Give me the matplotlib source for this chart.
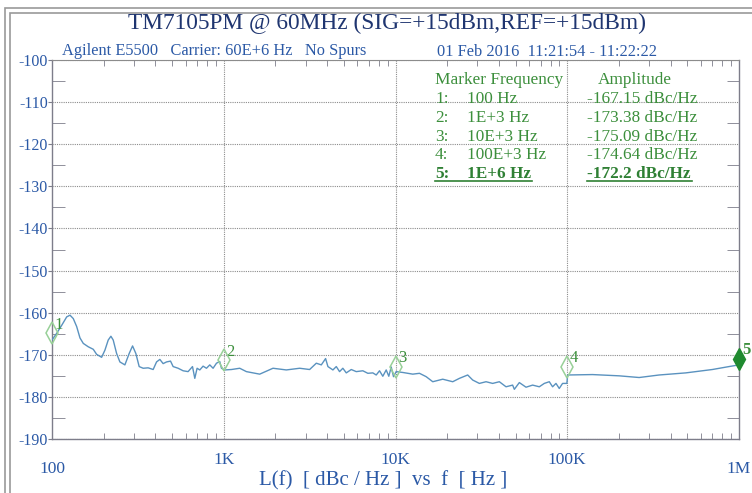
import numpy as np
import matplotlib
matplotlib.use("Agg")
import matplotlib.pyplot as plt
from matplotlib.patches import Rectangle
from matplotlib.ticker import FixedLocator, NullFormatter

plt.rcParams['font.family'] = ['Liberation Serif', 'DejaVu Serif']

# trace: offset frequency (Hz) and L(f) (dBc/Hz)
freq_hz = [100, 106.5, 113.9, 121.8, 127.3, 133.0, 139.2, 145.5, 152.1, 162.6,
           173.9, 181.9, 194.5, 203.3, 212.5, 220.3, 227.2, 237.8, 248.5, 265.7,
           281.4, 294.5, 307.8, 321.8, 339.5, 363.0, 388.1, 406.2, 424.6, 443.7,
           464.4, 489.9, 507.3, 542.4, 580.0, 620.0, 657.7, 678.3, 699.5, 725.3,
           758.0, 793.3, 829.2, 866.7, 907.2, 947.7, 969.7, 1013, 1109, 1239,
           1355, 1619, 1935, 2314, 2767, 3162, 3459, 3698, 3917, 4041,
           4321, 4521, 4724, 4937, 5169, 5526, 5908, 6455, 6902, 7379,
           7723, 8072, 8436, 8829, 9142, 9441, 9736, 10094, 11026, 12607,
           13790, 15085, 16481, 18836, 21537, 23559, 26326, 28151, 30781, 33670,
           36784, 40235, 44009, 48084, 49191, 52602, 57530, 62863, 68755, 73503,
           78596, 82150, 85980, 89840, 93910, 99500, 100500, 140320, 200600, 262200,
           342700, 489900, 699500, 874800, 1000000]
noise_dbc = [-166.5, -164.9, -163.0, -161.0, -160.6, -161.4, -163.3, -166.0, -167.3, -168.1,
             -168.7, -169.9, -170.6, -168.9, -166.5, -165.6, -166.5, -169.7, -171.7, -172.4,
             -169.7, -167.9, -169.7, -172.8, -173.2, -173.1, -173.5, -171.7, -171.1, -172.1,
             -171.7, -171.5, -172.8, -173.2, -173.8, -174.0, -172.8, -175.6, -173.2, -173.6,
             -172.7, -173.2, -172.4, -173.2, -172.0, -171.6, -173.2, -173.6, -173.5, -173.2,
             -174.0, -174.6, -173.2, -173.6, -173.2, -173.5, -172.0, -172.4, -170.9, -172.8,
             -173.6, -172.8, -174.0, -173.2, -174.3, -173.5, -174.0, -173.8, -174.4, -174.3,
             -174.8, -173.8, -175.1, -173.6, -175.1, -172.9, -175.2, -174.0, -174.2, -174.6,
             -174.4, -175.2, -176.4, -175.8, -176.4, -175.6, -174.8, -176.0, -176.8, -176.4,
             -176.8, -176.4, -177.6, -177.2, -178.2, -176.6, -177.7, -177.2, -177.6, -176.8,
             -176.4, -177.6, -176.8, -178.0, -176.8, -176.8, -174.8, -174.7, -175.0, -175.4,
             -174.8, -174.3, -173.5, -172.8, -172.4]

# markers (position on the trace as drawn)
marker_freq = [100, 1e3, 1e4, 1e5, 1e6]
marker_level = [-164.9, -171.3, -172.8, -172.8, -170.9]
marker_ids = ['1', '2', '3', '4', '5']

# marker table
table_freq = ['100 Hz', '1E+3 Hz', '10E+3 Hz', '100E+3 Hz', '1E+6 Hz']
table_amp = ['-167.15 dBc/Hz', '-173.38 dBc/Hz', '-175.09 dBc/Hz', '-174.64 dBc/Hz', '-172.2 dBc/Hz']

x_ticks = [1e2, 1e3, 1e4, 1e5, 1e6]
x_tick_labels = ['100', '1K', '10K', '100K', '1M']
y_ticks = list(range(-190, -99, 10))

W, H = 752, 493
blue = '#2b59a6'
navy = '#1f3570'
green = '#3c8f3c'
trace = '#5a92bf'


def px(x, y):
    return x / W, 1 - y / H


fig = plt.figure(figsize=(W / 100, H / 100), dpi=100)
fig.patch.set_facecolor('white')

# double frame around the plot
fig.patches.append(Rectangle((5 / W, -1), 2, 2 - 8 / H, transform=fig.transFigure,
                             fill=False, ec='#9a9a9a', lw=1.2))
fig.patches.append(Rectangle((9.5 / W, -1), 2, 2 - 12.5 / H, transform=fig.transFigure,
                             fill=False, ec='#9a9a9a', lw=1.2))

ax = fig.add_axes([52 / W, 54 / H, 687 / W, 379 / H])
ax.set_xscale('log')
ax.set_xlim(100, 1e6)
ax.set_ylim(-190, -100)

ax.plot(freq_hz, noise_dbc, color=trace, lw=1.0, zorder=3)

for f, v, m in zip(marker_freq, marker_level, marker_ids):
    if m == '5':
        ax.plot(f, v, marker='d', ms=11, color='#1f8a2f', mec='#1f8a2f', clip_on=False, zorder=5)
    else:
        ax.plot(f, v, marker='d', ms=11, mfc='none', mec='#98d098', mew=1.1, clip_on=False, zorder=4)
    ax.annotate(m, (f, v), xytext=(5, 6), textcoords='offset points', ha='center', va='center',
                color=green, fontsize=12, fontweight='bold' if m == '5' else 'normal',
                annotation_clip=False)

# grid
for y in y_ticks:
    ax.axhline(y, color='#8c8c8c', lw=0.8, ls=(0, (1, 1)), zorder=1)
for x in x_ticks[1:-1]:
    ax.axvline(x, color='#8c8c8c', lw=0.8, ls=(0, (1, 1)), zorder=1)

for side in ['left', 'right', 'bottom']:
    ax.spines[side].set_color('#7d7d8a')
    ax.spines[side].set_linewidth(1.0)
ax.spines['top'].set_color('#8c8c8c')
ax.spines['top'].set_linestyle((0, (2, 1)))

ax.yaxis.set_major_locator(FixedLocator(y_ticks))
ax.set_yticklabels([str(v) for v in y_ticks], color=blue, fontsize=11.5)
ax.yaxis.set_minor_locator(FixedLocator(list(range(-185, -100, 10))))
ax.tick_params(axis='y', which='major', direction='out', length=3, pad=0, color='#7d7d8a')
ax.tick_params(axis='y', which='minor', direction='in', length=9, color='#7d7d8a',
               left=True, right=True)

minor_x = [m * d for d in [1e2, 1e3, 1e4, 1e5] for m in range(2, 10)]
ax.xaxis.set_major_locator(FixedLocator(x_ticks))
ax.xaxis.set_minor_locator(FixedLocator(minor_x))
ax.xaxis.set_major_formatter(NullFormatter())
ax.xaxis.set_minor_formatter(NullFormatter())
ax.tick_params(axis='x', which='major', length=0)
ax.tick_params(axis='x', which='minor', direction='in', length=4, color='#7d7d8a',
               bottom=True, top=True)

xt = ax.get_xaxis_transform()
for f, lab in zip(x_ticks, x_tick_labels):
    yoff = -0.079 if lab in ('100', '1M') else -0.056
    ax.text(f, yoff, lab, transform=xt, ha='center', va='center', color=blue,
            fontsize=12.5, clip_on=False)

# titles
fig.text(*px(387, 23), 'TM7105PM @ 60MHz (SIG=+15dBm,REF=+15dBm)', ha='center', va='center',
         color=navy, fontsize=16.8)
fig.text(*px(62, 51), 'Agilent E5500   Carrier: 60E+6 Hz   No Spurs', ha='left', va='center',
         color=blue, fontsize=11.8)
fig.text(*px(437, 52), '01 Feb 2016  11:21:54 - 11:22:22', ha='left', va='center',
         color=blue, fontsize=11.8)
fig.text(*px(383, 481), 'L(f)  [ dBc / Hz ]  vs  f  [ Hz ]', ha='center', va='center',
         color=blue, fontsize=15)

# marker table
fig.text(*px(435, 80), 'Marker Frequency', ha='left', va='center', color=green, fontsize=12.4)
fig.text(*px(598, 80), 'Amplitude', ha='left', va='center', color=green, fontsize=12.4)
for i, (fq, am) in enumerate(zip(table_freq, table_amp)):
    yy = 99 + i * 18.8
    wt = 'bold' if i == 4 else 'normal'
    col = '#2f8034' if i == 4 else green
    fig.text(*px(435, yy), '%d:' % (i + 1), ha='left', va='center', color=col, fontsize=12.4, fontweight=wt)
    fig.text(*px(467, yy), fq, ha='left', va='center', color=col, fontsize=12.4, fontweight=wt)
    fig.text(*px(587, yy), am, ha='left', va='center', color=col, fontsize=12.4, fontweight=wt)
    if i == 4:
        for x0, x1 in [(435, 532), (587, 692)]:
            fig.add_artist(plt.Line2D([x0 / W, x1 / W], [1 - (yy + 7) / H] * 2,
                                      transform=fig.transFigure, color=col, lw=1.2))

fig.savefig('out.png', dpi=100)
